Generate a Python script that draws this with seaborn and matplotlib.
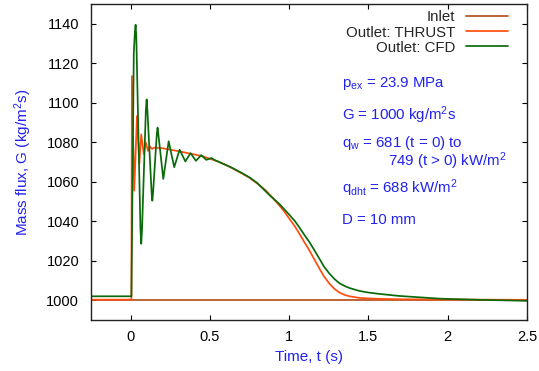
import matplotlib
matplotlib.use("Agg")
import matplotlib.pyplot as plt
import pandas as pd
import seaborn as sns

# values
inlet_t = [-0.25, 2.5]
inlet_g = [1000.0, 1000.0]

thrust_t = [-0.25, 0.005, 0.008, 0.023, 0.040, 0.055, 0.067, 0.083, 0.095, 0.110,
            0.120, 0.135, 0.150, 0.200, 0.300, 0.450, 0.550, 0.624, 0.700, 0.750,
            0.800, 0.850, 0.900, 0.939, 0.970, 1.002, 1.035, 1.065, 1.095, 1.128,
            1.160, 1.191, 1.220, 1.254, 1.285, 1.317, 1.350, 1.380, 1.443, 1.500,
            1.570, 1.690, 1.950, 2.500]
thrust_g = [1000.3, 1000.3, 1113.5, 1055.5, 1093.3, 1069.0, 1084.0, 1074.0, 1080.0, 1075.6,
            1078.0, 1076.6, 1077.3, 1077.0, 1075.5, 1073.0, 1070.3, 1067.6, 1064.3, 1062.0,
            1059.0, 1055.8, 1051.5, 1047.9, 1044.8, 1041.2, 1037.5, 1033.6, 1029.5, 1025.2,
            1020.5, 1016.0, 1012.0, 1008.4, 1005.8, 1003.9, 1002.7, 1002.0, 1001.2, 1000.9,
            1000.7, 1000.5, 1000.4, 1000.2]

cfd_t = [-0.25, 0.005, 0.020, 0.027, 0.0315, 0.036, 0.062, 0.067, 0.072, 0.096,
         0.101, 0.106, 0.132, 0.137, 0.142, 0.165, 0.170, 0.175, 0.206, 0.240,
         0.275, 0.309, 0.345, 0.378, 0.412, 0.445, 0.477, 0.510, 0.530, 0.634,
         0.700, 0.750, 0.800, 0.876, 0.939, 1.002, 1.035, 1.065, 1.095, 1.128,
         1.160, 1.191, 1.220, 1.254, 1.285, 1.317, 1.350, 1.380, 1.443, 1.500,
         1.570, 1.690, 1.820, 1.950, 2.200, 2.500]
cfd_g = [1002.0, 1002.0, 1125.0, 1136.0, 1139.5, 1133.0, 1036.0, 1028.6, 1036.0, 1096.0,
         1101.7, 1096.0, 1055.0, 1050.4, 1055.0, 1084.0, 1087.4, 1084.0, 1061.4, 1080.5,
         1067.4, 1076.2, 1070.3, 1074.5, 1070.6, 1073.5, 1071.1, 1072.0, 1071.0, 1067.3,
         1064.5, 1062.2, 1059.3, 1053.2, 1048.7, 1043.2, 1040.2, 1036.8, 1033.2, 1029.4,
         1025.2, 1021.0, 1017.0, 1013.5, 1010.8, 1008.6, 1007.2, 1006.2, 1004.7, 1003.9,
         1003.2, 1002.2, 1001.5, 1000.8, 1000.2, 999.7]

x_ticks = [0, 0.5, 1, 1.5, 2, 2.5]
x_tick_labels = ["0", "0.5", "1", "1.5", "2", "2.5"]
y_ticks = [1000, 1020, 1040, 1060, 1080, 1100, 1120, 1140]

series_names = ["Inlet", "Outlet: THRUST", "Outlet: CFD"]
notes = [
    r"p$_{\mathregular{ex}}$ = 23.9 MPa",
    r"G = 1000 kg/m$^{\mathregular{2}}$s",
    r"q$_{\mathregular{w}}$ = 681 (t = 0) to",
    r"749 (t > 0) kW/m$^{\mathregular{2}}$",
    r"q$_{\mathregular{dht}}$ = 688 kW/m$^{\mathregular{2}}$",
    "D = 10 mm",
]

sns.set_theme(style="ticks")
plt.rcParams["font.family"] = ["Liberation Sans", "DejaVu Sans"]
plt.rcParams["mathtext.fontset"] = "custom"
plt.rcParams["mathtext.rm"] = "Liberation Sans"
plt.rcParams["mathtext.it"] = "Liberation Sans:italic"
plt.rcParams["mathtext.bf"] = "Liberation Sans:bold"

blue = "#2222ee"
colors = ["#b5501e", "#ff4d0d", "#0a6a0a"]

df = pd.concat([
    pd.DataFrame({"t": inlet_t, "G": inlet_g, "series": series_names[0]}),
    pd.DataFrame({"t": thrust_t, "G": thrust_g, "series": series_names[1]}),
    pd.DataFrame({"t": cfd_t, "G": cfd_g, "series": series_names[2]}),
], ignore_index=True)

fig, ax = plt.subplots(figsize=(5.39, 3.71), dpi=100)
fig.subplots_adjust(left=0.1688, right=0.9777, bottom=0.1375, top=0.9892)

sns.lineplot(data=df, x="t", y="G", hue="series", palette=colors,
             hue_order=series_names, estimator=None, sort=False,
             linewidth=1.25, ax=ax)

ax.set_xlim(-0.25, 2.5)
ax.set_ylim(990, 1150)
ax.set_xticks(x_ticks)
ax.set_xticklabels(x_tick_labels)
ax.set_yticks(y_ticks)
ax.tick_params(direction="in", top=True, right=True, length=3.5, width=0.8,
               labelsize=10.5, colors="black", pad=7)
ax.tick_params(axis="y", pad=8.5)
for s in ax.spines.values():
    s.set_linewidth(1.0)
    s.set_color("#222222")

ax.set_xlabel("Time, t (s)", color=blue, fontsize=11)
ax.set_ylabel(r"Mass flux, G (kg/m$^{\mathregular{2}}$s)", color=blue, fontsize=11)
ax.xaxis.set_label_coords(0.5, -0.095)
ax.yaxis.set_label_coords(-0.131, 0.5)

leg = ax.legend(loc="upper right", bbox_to_anchor=(0.956, 0.98), frameon=False,
                markerfirst=False, fontsize=10.8, handlelength=2.8,
                handletextpad=0.7, labelspacing=0.08, borderpad=0, borderaxespad=0)

note_x = [0.575, 0.575, 0.575, 0.682, 0.575, 0.575]
note_y = [0.738, 0.633, 0.5465, 0.487, 0.401, 0.303]
for x, y, s in zip(note_x, note_y, notes):
    ax.text(x, y, s, transform=ax.transAxes, color=blue, fontsize=10.8,
            va="baseline", ha="left")

fig.savefig("out.png", dpi=100)
